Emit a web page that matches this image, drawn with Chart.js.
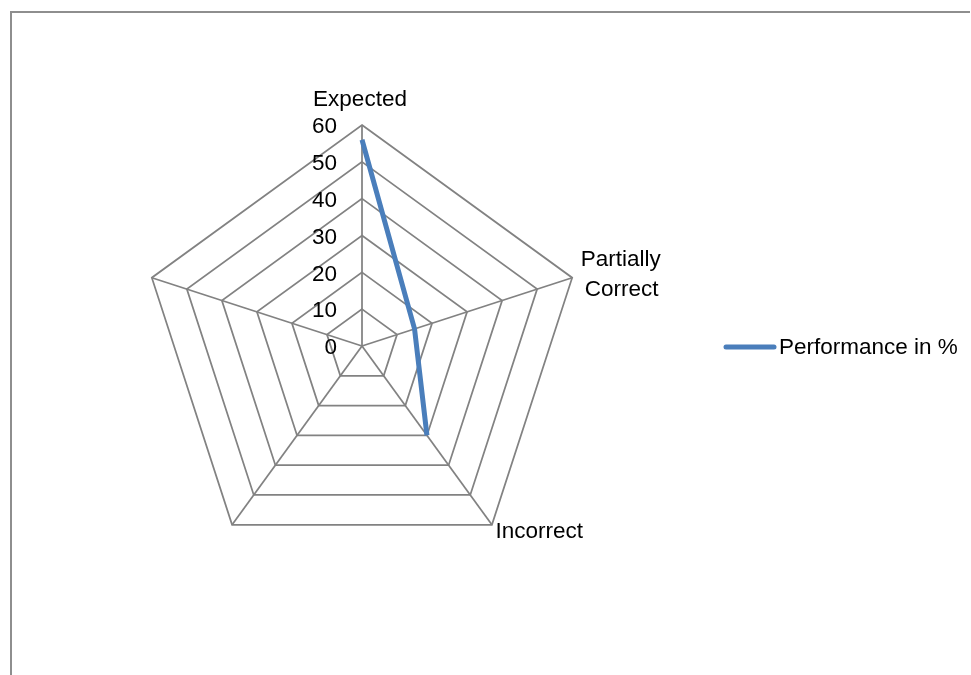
<!DOCTYPE html>
<html>
<head>
<meta charset="utf-8">
<script src="https://cdn.jsdelivr.net/npm/chart.js@4/dist/chart.umd.min.js"></script>
<style>
  html, body { margin: 0; padding: 0; background: #fff; }
</style>
</head>
<body>
<canvas id="canvas" width="971" height="675"></canvas>
<script>
// categories (the last two spokes have no label and no value)
var categories = ["Expected", ["Partially", "Correct"], "Incorrect", "", ""];
var performance = [56, 15, 30, null, null];
var tickValues = [0, 10, 20, 30, 40, 50, 60];

var FONT = "22.5px 'Liberation Sans', Arial, sans-serif";
var GRID = "#828282";
var BLUE = "#4a7ebb";

// draws frame, tick numbers, spoke labels and legend
var extras = {
  id: "extras",
  beforeDraw: function(chart) {
    var ctx = chart.ctx;
    ctx.save();
    ctx.strokeStyle = "#8e8e8e";
    ctx.lineWidth = 2;
    ctx.beginPath();
    ctx.moveTo(11, 675);
    ctx.lineTo(11, 12);
    ctx.lineTo(970, 12);
    ctx.stroke();
    ctx.restore();
  },
  afterDraw: function(chart) {
    var ctx = chart.ctx;
    var scale = chart.scales.r;
    ctx.save();
    ctx.font = FONT;
    ctx.fillStyle = "#000";

    // tick numbers, right aligned left of the top spoke
    ctx.textAlign = "right";
    ctx.textBaseline = "middle";
    tickValues.forEach(function(v) {
      var d = scale.getDistanceFromCenterForValue(v);
      ctx.fillText(String(v), scale.xCenter - 25, scale.yCenter - d + 2);
    });

    // spoke labels
    var r = scale.drawingArea;
    var p0 = scale.getPointPosition(0, r + 25);
    ctx.textAlign = "center";
    ctx.fillText(categories[0], p0.x - 2, p0.y);

    var p1 = scale.getPointPosition(1, r + 8);
    ctx.textAlign = "left";
    ctx.fillText(categories[1][0], p1.x + 1, p1.y - 15);
    ctx.fillText(categories[1][1], p1.x + 5, p1.y + 15);

    var p2 = scale.getPointPosition(2, r + 6);
    ctx.fillText(categories[2], p2.x, p2.y + 2);

    // legend
    var ds = chart.data.datasets[0];
    ctx.strokeStyle = ds.borderColor;
    ctx.lineWidth = 5;
    ctx.lineCap = "round";
    ctx.beginPath();
    ctx.moveTo(726, 347);
    ctx.lineTo(774, 347);
    ctx.stroke();
    ctx.fillText(ds.label, 779, 348);
    ctx.restore();
  }
};

var config = {
  type: "radar",
  data: {
    labels: categories,
    datasets: [
      {
        label: "Performance in %",
        data: performance,
        fill: false,
        borderColor: BLUE,
        backgroundColor: BLUE,
        borderWidth: 5,
        pointRadius: 0,
        pointHoverRadius: 0,
        tension: 0,
        spanGaps: false
      }
    ]
  },
  options: {
    responsive: false,
    animation: false,
    layout: {
      padding: { left: 141, right: 388, top: 125, bottom: 108 }
    },
    plugins: {
      legend: { display: false },
      tooltip: { enabled: false }
    },
    scales: {
      r: {
        min: 0,
        max: 60,
        beginAtZero: true,
        ticks: { stepSize: 10, display: false },
        pointLabels: { display: false },
        grid: { color: GRID, lineWidth: 1.75, circular: false },
        angleLines: { color: GRID, lineWidth: 1.75 }
      }
    }
  },
  plugins: [extras]
};

window.onload = function() {
  var ctx = document.getElementById("canvas").getContext("2d");
  window.myRadar = new Chart(ctx, config);
};
</script>
</body>
</html>
